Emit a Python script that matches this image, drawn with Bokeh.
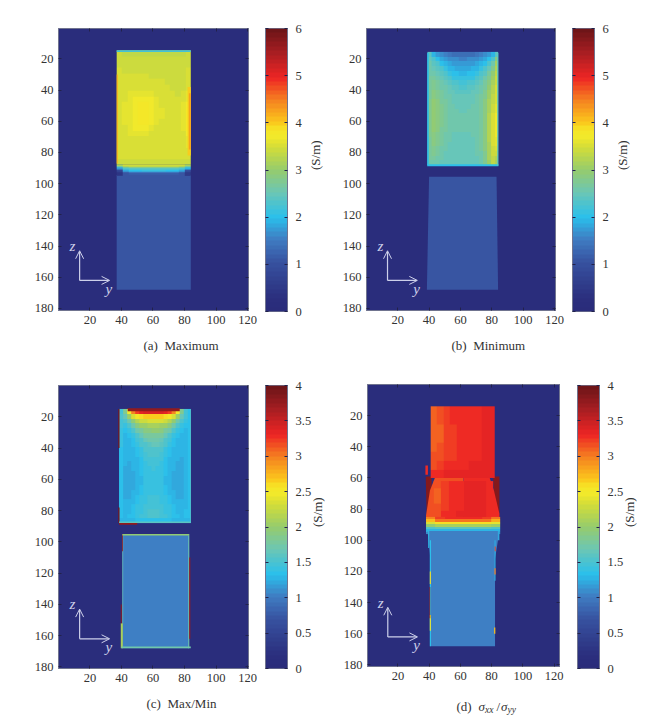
import numpy as np
from bokeh.embed import file_html
from bokeh.resources import INLINE
from bokeh.plotting import figure
from bokeh.layouts import row, column
from bokeh.models import (ColumnDataSource, LinearColorMapper, LinearAxis, FixedTicker,
                          Arrow, OpenHead, Label, Title)

# ---------- tick labels / captions ----------
Y_TICKS = [20, 40, 60, 80, 100, 120]
Z_TICKS = [20, 40, 60, 80, 100, 120, 140, 160, 180]
CB_TICKS_6 = [0, 1, 2, 3, 4, 5, 6]
CB_TICKS_4 = [0, 0.5, 1, 1.5, 2, 2.5, 3, 3.5, 4]
CB_OVERRIDES_4 = {0: "0", 0.5: "0.5", 1: "1", 1.5: "1.5", 2: "2", 2.5: "2.5", 3: "3", 3.5: "3.5", 4: "4"}

# colormap stops (fraction, colour)
CM_POS = [0, .04, .167, .25, .33, .42, .5, .58, .62, .645, .67, .75, .83, .92, 1]
CM_COL = ["#2a2c7a", "#2b2f7e", "#37519f", "#3f7cc2", "#2ac0ec", "#6cc6b4", "#96cc6c", "#d3dd38",
          "#f2e92b", "#f6e526", "#fbc71c", "#f58220", "#ee2524", "#a81e22", "#6e1518"]

# Field readings are in hundredths of S/m (or of the ratio).
# ---------- (a) Maximum ----------
A_UPPER = [
    [340, 335, 335, 335, 335, 335, 335, 335, 335, 335, 335, 335, 335, 340],
    [345, 340, 340, 340, 340, 340, 340, 340, 340, 340, 340, 340, 340, 345],
    [345, 345, 345, 345, 345, 345, 345, 345, 345, 345, 340, 340, 340, 345],
    [350, 345, 345, 345, 345, 345, 345, 345, 345, 345, 345, 345, 345, 350],
    [350, 350, 350, 350, 350, 350, 345, 345, 345, 345, 345, 345, 345, 350],
    [355, 355, 355, 355, 355, 355, 355, 350, 350, 345, 345, 345, 345, 350],
    [355, 355, 355, 355, 355, 355, 355, 355, 350, 350, 345, 345, 345, 355],
    [355, 355, 358, 362, 362, 362, 358, 355, 355, 350, 350, 345, 350, 360],
    [355, 355, 362, 368, 372, 372, 368, 360, 355, 355, 350, 350, 355, 365],
    [355, 358, 365, 372, 375, 375, 372, 364, 355, 355, 355, 350, 360, 370],
    [355, 358, 365, 372, 375, 375, 372, 364, 358, 355, 355, 355, 365, 375],
    [355, 358, 365, 372, 375, 375, 372, 364, 358, 355, 355, 355, 365, 375],
    [355, 358, 365, 372, 375, 375, 370, 360, 355, 355, 355, 355, 365, 375],
    [355, 355, 362, 368, 372, 368, 362, 355, 355, 355, 355, 355, 360, 375],
    [355, 355, 358, 362, 362, 358, 355, 355, 355, 355, 355, 355, 355, 370],
    [355, 355, 355, 355, 355, 355, 355, 355, 355, 355, 355, 355, 355, 365],
    [355, 350, 355, 355, 355, 355, 355, 355, 355, 355, 355, 355, 355, 360],
    [355, 350, 350, 355, 355, 355, 355, 355, 355, 355, 350, 350, 350, 355],
    [350, 350, 350, 350, 350, 350, 350, 350, 350, 350, 350, 350, 350, 350],
    [345, 345, 345, 345, 345, 345, 345, 345, 345, 345, 345, 345, 345, 345],
]
A_BAND = [
    [310, 340, 345, 345, 345, 345, 345, 345, 345, 345, 340, 310],
    [230, 300, 320, 320, 320, 320, 320, 320, 320, 320, 300, 240],
    [170, 225, 235, 240, 240, 240, 240, 240, 240, 235, 225, 190],
    [ 80, 180, 200, 205, 210, 210, 210, 210, 205, 200, 185, 100],
    [ 50, 130, 150, 155, 155, 155, 155, 155, 155, 150, 130,  60],
    [ 40, 105, 118, 120, 120, 120, 120, 120, 120, 118, 105,  50],
    [ 50, 110, 110, 110, 110, 110, 110, 110, 110, 110, 110,  50],
]
A_STRIPS = dict(l=[37, 37, 82, 82.8, 37], r=[84, 37.7, 84, 84, 84], t=[14.5, 30, 38, 42, 94.5],
                b=[15.5, 87, 82, 78, 168], v=[220, 420, 395, 425, 110])

# ---------- (b) Minimum ----------
B_UPPER = [
    [235, 190, 170, 160, 150, 145, 140, 140, 140, 140, 140, 140, 145, 150, 160, 170, 190, 240],
    [245, 225, 200, 180, 170, 165, 160, 160, 155, 155, 160, 160, 165, 170, 180, 200, 225, 285],
    [255, 240, 225, 205, 190, 180, 175, 170, 170, 170, 170, 175, 180, 190, 205, 225, 255, 310],
    [260, 250, 240, 225, 210, 195, 190, 185, 185, 185, 185, 190, 195, 210, 225, 245, 280, 325],
    [260, 260, 250, 240, 225, 210, 200, 200, 195, 195, 200, 200, 210, 225, 240, 265, 295, 335],
    [265, 265, 260, 250, 240, 225, 215, 210, 210, 210, 210, 215, 225, 240, 255, 280, 305, 340],
    [265, 275, 265, 255, 250, 240, 230, 225, 220, 220, 225, 230, 240, 250, 265, 290, 315, 345],
    [270, 280, 270, 260, 255, 245, 240, 235, 230, 230, 235, 240, 245, 255, 270, 295, 320, 350],
    [270, 285, 275, 265, 255, 250, 245, 240, 240, 240, 240, 245, 250, 260, 275, 300, 325, 350],
    [270, 290, 280, 270, 260, 255, 250, 245, 245, 245, 245, 250, 255, 265, 280, 305, 330, 355],
    [275, 295, 285, 270, 265, 255, 250, 250, 250, 250, 250, 250, 255, 265, 285, 310, 335, 355],
    [275, 295, 285, 275, 265, 260, 255, 250, 250, 250, 250, 255, 260, 270, 285, 310, 340, 360],
    [275, 295, 285, 275, 265, 260, 255, 255, 250, 250, 255, 255, 260, 270, 290, 315, 345, 365],
    [275, 295, 285, 275, 265, 260, 255, 255, 255, 255, 255, 255, 260, 270, 290, 320, 350, 370],
    [275, 295, 285, 275, 265, 260, 255, 255, 255, 255, 255, 255, 260, 270, 290, 320, 350, 370],
    [275, 295, 285, 275, 265, 260, 255, 255, 255, 255, 255, 255, 260, 270, 290, 320, 350, 370],
    [275, 295, 285, 270, 265, 255, 255, 255, 255, 255, 255, 255, 260, 270, 290, 320, 355, 370],
    [275, 290, 280, 270, 260, 255, 250, 250, 250, 250, 250, 255, 255, 265, 290, 320, 355, 370],
    [270, 285, 280, 265, 260, 255, 250, 250, 250, 250, 250, 250, 255, 265, 285, 320, 355, 365],
    [270, 285, 275, 265, 255, 250, 250, 250, 250, 250, 250, 250, 255, 265, 285, 315, 350, 360],
    [265, 280, 270, 260, 255, 250, 250, 245, 245, 245, 245, 250, 255, 265, 285, 315, 345, 355],
    [265, 275, 265, 255, 250, 250, 245, 245, 245, 245, 245, 250, 255, 260, 280, 315, 340, 340],
    [265, 270, 260, 255, 250, 245, 245, 245, 245, 245, 245, 250, 250, 260, 280, 310, 335, 325],
    [255, 260, 255, 250, 245, 245, 245, 245, 245, 245, 245, 245, 250, 255, 275, 305, 330, 310],
]
B_STRIPS = dict(l=[38.8, 38.8, 83.4], r=[39.8, 84.2, 84.2], t=[16, 87.6, 16], b=[88, 88.8, 88.5],
                v=[205, 205, 235])
B_LOWER = dict(ys=[[40, 83, 84, 38.6]], zs=[[95.5, 95.5, 168, 168]], v=[108])

# ---------- (c) Max/Min ----------
C_UPPER = [
    [145, 185, 245, 295, 320, 335, 340, 340, 340, 340, 340, 335, 320, 295, 245, 185, 145, 135],
    [150, 165, 200, 235, 250, 260, 265, 265, 265, 265, 265, 260, 250, 235, 200, 165, 145, 135],
    [145, 150, 170, 195, 215, 225, 230, 235, 235, 235, 235, 225, 215, 195, 170, 150, 140, 135],
    [145, 140, 150, 170, 190, 200, 205, 210, 210, 210, 205, 200, 190, 170, 150, 140, 135, 135],
    [140, 135, 140, 155, 170, 180, 190, 190, 195, 195, 190, 180, 170, 155, 140, 135, 130, 135],
    [140, 130, 135, 140, 155, 165, 175, 180, 180, 180, 175, 165, 155, 140, 135, 130, 130, 135],
    [140, 130, 130, 135, 145, 155, 165, 170, 170, 170, 165, 155, 145, 135, 130, 130, 130, 135],
    [140, 128, 130, 132, 140, 150, 155, 160, 165, 165, 160, 150, 140, 132, 130, 128, 128, 135],
    [135, 125, 128, 130, 135, 143, 150, 155, 155, 155, 150, 143, 135, 130, 128, 125, 128, 135],
    [135, 125, 125, 130, 132, 140, 147, 150, 150, 150, 147, 140, 132, 130, 125, 125, 128, 135],
    [135, 125, 125, 128, 130, 135, 145, 148, 148, 148, 145, 135, 130, 128, 125, 123, 125, 135],
    [135, 125, 123, 125, 130, 133, 142, 145, 145, 145, 142, 133, 130, 125, 123, 122, 125, 135],
    [135, 123, 122, 125, 128, 133, 140, 143, 145, 143, 140, 133, 128, 125, 122, 122, 125, 135],
    [135, 122, 120, 123, 127, 132, 140, 142, 143, 142, 140, 132, 127, 123, 120, 120, 125, 135],
    [135, 122, 120, 122, 125, 130, 140, 142, 142, 142, 140, 130, 125, 122, 120, 120, 125, 135],
    [135, 122, 120, 122, 125, 130, 140, 142, 142, 142, 140, 130, 125, 122, 120, 120, 125, 135],
    [135, 122, 120, 123, 127, 132, 140, 142, 142, 142, 140, 132, 127, 123, 120, 120, 125, 135],
    [135, 122, 122, 125, 130, 135, 140, 143, 143, 143, 140, 135, 130, 125, 122, 122, 125, 135],
    [135, 123, 123, 127, 133, 138, 142, 145, 145, 145, 142, 138, 133, 127, 123, 123, 127, 135],
    [135, 125, 125, 130, 136, 140, 143, 145, 145, 145, 143, 140, 136, 130, 125, 125, 128, 135],
    [135, 125, 127, 133, 138, 142, 145, 147, 147, 147, 145, 142, 138, 133, 127, 127, 130, 135],
    [135, 127, 130, 135, 140, 143, 146, 150, 150, 150, 146, 143, 140, 135, 130, 128, 132, 135],
    [135, 130, 132, 137, 142, 145, 147, 150, 150, 150, 147, 145, 142, 137, 132, 130, 133, 135],
    [125, 125, 128, 130, 132, 135, 135, 135, 135, 135, 135, 135, 132, 130, 128, 125, 125, 130],
]
C_STRIPS = dict(
    l=[44, 38, 38, 38.5, 38.5, 83.5, 40.5, 40.7, 39.6, 39.6, 40, 82.4, 83, 40.4, 40.6],
    r=[77, 38.8, 38.8, 50, 84, 84, 83, 41.1, 40.9, 40.2, 84, 83, 83.7, 40.9, 83],
    t=[14.6, 15, 78, 88, 87, 15, 95, 96, 152, 140, 167, 96, 110, 95, 95],
    b=[16.4, 40, 88, 89, 88, 88, 168, 152, 168, 152, 168, 168, 162, 106, 96],
    v=[375, 390, 390, 380, 160, 155, 102, 170, 210, 380, 170, 170, 370, 380, 195],
)

# ---------- (d) sigma_xx / sigma_yy ----------
D_UPPER = [
    [310, 315, 320, 326, 328, 329, 329, 331, 332, 333],
    [310, 315, 320, 325, 328, 329, 329, 331, 332, 333],
    [310, 312, 320, 324, 328, 329, 329, 331, 332, 333],
    [312, 312, 320, 324, 327, 329, 329, 329, 332, 333],
    [312, 315, 320, 324, 327, 329, 329, 329, 332, 333],
    [315, 318, 321, 324, 328, 329, 331, 331, 332, 333],
    [318, 321, 325, 328, 330, 331, 332, 332, 333, 334],
    [329, 331, 333, 336, 336, 336, 336, 336, 336, 336],
]
D_SHOULDER = dict(ys=[[37.8, 41.5, 42, 38.4], [81, 85, 85, 82]],
                  zs=[[59, 59, 84, 84], [59, 59, 84, 84]], v=[385, 385])
D_LOWER_UP = dict(ys=[[44, 62, 62, 38, 38, 40.5], [62, 78.5, 81.5, 85, 85, 62]],
                  zs=[[59, 59, 88, 88, 84, 68], [59, 59, 68, 83, 88, 88]], v=[316, 331])
D_LOWER_MATRIX = [
    [315, 321, 327, 331, 332, 332, 333, 331],
    [312, 321, 327, 331, 332, 333, 333, 331],
    [312, 321, 327, 331, 332, 333, 333, 331],
    [315, 323, 329, 331, 332, 333, 333, 331],
    [318, 325, 329, 332, 332, 333, 332, 331],
]
D_BAND = [
    [295, 320, 325, 325, 325, 325, 320, 300],
    [270, 300, 305, 305, 305, 305, 300, 275],
    [235, 262, 262, 262, 262, 262, 262, 240],
    [195, 210, 210, 210, 210, 210, 210, 200],
    [150, 160, 160, 160, 160, 160, 160, 150],
    [125, 128, 128, 128, 128, 128, 128, 125],
    [108, 105, 105, 105, 105, 105, 105, 108],
]
D_TAPER = dict(ys=[[39, 85, 82.2, 40.8]], zs=[[94, 94, 112, 112]], v=[100])
D_STRIPS = dict(
    l=[40.8, 40.4, 81.9, 40.4, 40.4, 40.2, 81.8, 82, 81.6, 37.6, 39.4, 84],
    r=[82.2, 41.2, 82.5, 41.1, 41.1, 40.7, 82.6, 82.6, 82.4, 39.2, 40, 85],
    t=[112, 100, 100, 120, 148, 130, 118, 104, 156, 52, 94, 94],
    b=[168, 168, 126, 128, 158, 150, 122, 107, 160, 58, 105, 100],
    v=[100, 135, 130, 260, 250, 380, 300, 320, 270, 330, 135, 120],
)

SERIF = "Liberation Serif"
INK = "#333333"
FRAME = "#70748f"
WHITE = "#cdd0ea"
FONT_SIZE = "12.5px"

stops = np.array([[int(c[i:i + 2], 16) for i in (1, 3, 5)] for c in CM_COL], dtype=float)
frac = np.linspace(0, 1, 64)
PALETTE = ["#%02x%02x%02x" % tuple(int(round(np.interp(f, CM_POS, stops[:, k]))) for k in range(3)) for f in frac]


def blank(ticks):
    return {t: "" for t in ticks}


def heat(vmax, y_rng, z_rng, fw, fh, left, right, top, bottom):
    p = figure(x_range=y_rng, y_range=z_rng, frame_width=fw, frame_height=fh, toolbar_location=None,
               output_backend="svg", min_border_left=left, min_border_right=right, min_border_top=top,
               min_border_bottom=bottom, x_axis_location=None, y_axis_location=None,
               background_fill_color=PALETTE[1], border_fill_color="white", outline_line_color=FRAME)
    p.grid.visible = False
    for side, ticks, lab in (("below", Y_TICKS, True), ("left", Z_TICKS, True),
                             ("above", Y_TICKS, False), ("right", Z_TICKS, False)):
        ax = LinearAxis(ticker=FixedTicker(ticks=ticks), major_tick_in=3, major_tick_out=0,
                        major_tick_line_color="#22224a", axis_line_color=FRAME, minor_tick_line_color=None,
                        major_label_text_font=SERIF, major_label_text_font_size=FONT_SIZE,
                        major_label_text_color=INK, major_label_standoff=5 if lab else 0)
        if not lab:
            ax.major_label_overrides = blank(ticks)
        p.add_layout(ax, side)
    mapper = LinearColorMapper(palette=PALETTE, low=0, high=vmax * 100)
    return p, mapper


def block(p, mapper, m, y0, y1, z0, z1):
    p.image(image=[np.array(m, dtype=float)], x=y0, y=z0, dw=y1 - y0, dh=z1 - z0, color_mapper=mapper)


def strips(p, mapper, s):
    p.quad(left="l", right="r", top="t", bottom="b", source=ColumnDataSource(s),
           fill_color={"field": "v", "transform": mapper}, line_color=None)


def polys(p, mapper, s):
    p.patches(xs="ys", ys="zs", source=ColumnDataSource(s),
              fill_color={"field": "v", "transform": mapper}, line_color=None)


def axes_mark(p):
    head = dict(size=8, line_color=WHITE, line_width=1)
    p.add_layout(Arrow(end=OpenHead(**head), x_start=13.5, y_start=162, x_end=13.5, y_end=143,
                       line_color=WHITE, line_width=1.2))
    p.add_layout(Arrow(end=OpenHead(**head), x_start=13.5, y_start=162, x_end=32.5, y_end=162,
                       line_color=WHITE, line_width=1.2))
    for txt, x, z in (("z", 9, 140), ("y", 32, 167.5)):
        p.add_layout(Label(x=x, y=z, text=txt, text_font=SERIF, text_font_style="italic",
                           text_font_size="15px", text_color=WHITE, text_align="center",
                           text_baseline="middle"))


def caption(p, offset, txt, standoff):
    p.add_layout(Title(text=txt, align="left", offset=offset, standoff=standoff, text_font=SERIF,
                       text_font_size="13px", text_font_style="normal", text_color=INK), "below")


def colorbar(vmax, ticks, fh, left, right, top, bottom, lab_standoff, overrides=None):
    p = figure(x_range=(0, 1), y_range=(0, vmax), frame_width=22, frame_height=fh, toolbar_location=None,
               output_backend="svg", min_border_left=left, min_border_right=right, min_border_top=top,
               min_border_bottom=bottom, x_axis_location=None, y_axis_location=None,
               outline_line_color=FRAME, border_fill_color="white")
    p.grid.visible = False
    mapper = LinearColorMapper(palette=PALETTE, low=0, high=vmax)
    levels = (np.arange(64, dtype=float) + 0.5) / 64 * vmax
    p.image(image=[levels.reshape(64, 1)], x=0, y=0, dw=1, dh=vmax, color_mapper=mapper)
    ax = LinearAxis(ticker=FixedTicker(ticks=ticks), major_tick_in=3, major_tick_out=0,
                    major_tick_line_color="#22224a", axis_line_color=FRAME, minor_tick_line_color=None,
                    major_label_text_font=SERIF, major_label_text_font_size=FONT_SIZE,
                    major_label_text_color=INK, major_label_standoff=8,
                    axis_label="(S/m)", axis_label_orientation=np.pi / 2, axis_label_standoff=lab_standoff,
                    axis_label_text_font=SERIF, axis_label_text_font_size="13px",
                    axis_label_text_font_style="normal", axis_label_text_color=INK)
    if overrides:
        ax.major_label_overrides = overrides
    p.add_layout(ax, "right")
    ax2 = LinearAxis(ticker=FixedTicker(ticks=ticks), major_tick_in=3, major_tick_out=0,
                     major_tick_line_color="#22224a", axis_line_color=FRAME, minor_tick_line_color=None,
                     major_label_standoff=0, major_label_overrides=blank(ticks))
    p.add_layout(ax2, "left")
    return p


# Panel a
pa, ma = heat(6, (0.1, 120.6), (181.3, 0.5), 190, 282, 58, 10, 27, 57)
block(pa, ma, A_UPPER, 37, 84, 14.5, 87.5)
strips(pa, ma, A_STRIPS)
block(pa, ma, A_BAND, 37, 84, 87.5, 95)
axes_mark(pa)
caption(pa, 85, "(a)\u00a0 Maximum", 19)
cba = colorbar(6, CB_TICKS_6, 283, 7, 48, 28, 55, 11)

# Panel b
pb, mb = heat(6, (0.1, 120.6), (181.3, 0.5), 189, 282, 31, 10, 27, 57)
block(pb, mb, B_UPPER, 39, 84, 15.5, 88)
strips(pb, mb, B_STRIPS)
polys(pb, mb, B_LOWER)
axes_mark(pb)
caption(pb, 85, "(b)\u00a0 Minimum", 19)
cbb = colorbar(6, CB_TICKS_6, 283, 7, 55, 28, 55, 11)

# Panel c
pc, mc = heat(4, (0.1, 120.6), (181, 0), 190, 283, 58, 10, 18, 48)
block(pc, mc, C_UPPER, 38.5, 84, 15, 88)
strips(pc, mc, C_STRIPS)
axes_mark(pc)
caption(pc, 88, "(c)\u00a0 Max/Min", 18)
cbc = colorbar(4, CB_TICKS_4, 283, 7, 48, 19, 47, 3, CB_OVERRIDES_4)

# Panel d
pd, md = heat(4, (0.5, 123.5), (181, 0), 192, 282, 32, 10, 18, 28)
polys(pd, md, D_SHOULDER)
polys(pd, md, D_LOWER_UP)
block(pd, md, D_UPPER, 41, 82, 14, 60)
block(pd, md, D_LOWER_MATRIX, 43, 81, 62, 85)
block(pd, md, D_BAND, 38, 85.5, 85, 96)
polys(pd, md, D_TAPER)
strips(pd, md, D_STRIPS)
axes_mark(pd)

# caption of (d): pieces with subscripts, on a small strip of its own
CAP_X = [0, 22, 28.5, 40, 44.5, 51]
CAP_T = ["(d)", "\u03c3", "xx", "/", "\u03c3", "yy"]
cap = figure(x_range=(0, 190), y_range=(0, 21), frame_width=190, frame_height=21, toolbar_location=None,
             output_backend="svg", min_border_left=32, min_border_right=10, min_border_top=0, min_border_bottom=0,
             x_axis_location=None, y_axis_location=None,
             outline_line_color=None, border_fill_color="white", background_fill_color="white")
cap.grid.visible = False
for x, t in zip(CAP_X, CAP_T):
    sub = t in ("xx", "yy")
    cap.add_layout(Label(x=89 + x, y=6 if sub else 9, text=t, text_font=SERIF,
                         text_font_size="9.5px" if sub else "13px",
                         text_font_style="italic" if t in ("\u03c3", "xx", "yy") else "normal",
                         text_color=INK, text_align="left", text_baseline="middle"))
cbd = colorbar(4, CB_TICKS_4, 283, 8, 50, 19, 47, 3, CB_OVERRIDES_4)

layout = column(row(pa, cba, pb, cbb), row(pc, cbc, column(pd, cap), cbd))
open("out.html", "w").write(file_html(layout, INLINE))
